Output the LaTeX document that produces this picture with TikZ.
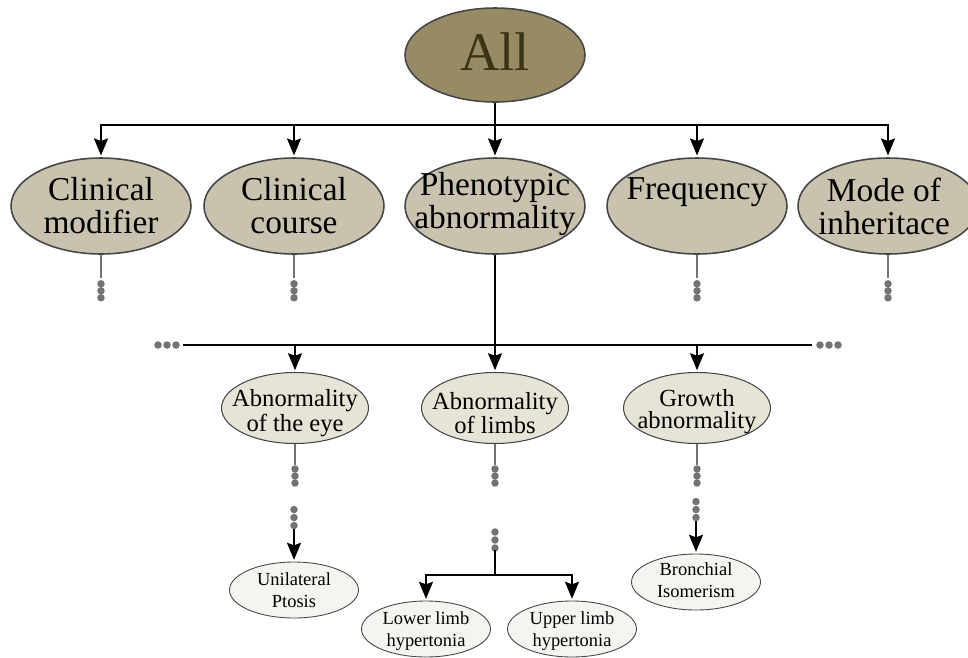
\documentclass[tikz,border=0pt]{standalone}
\usepackage{fontspec}
\setmainfont{Liberation Serif}
\definecolor{allfill}{RGB}{151,139,101}
\definecolor{alltext}{RGB}{58,52,20}
\definecolor{onefill}{RGB}{201,194,174}
\definecolor{twofill}{RGB}{230,228,214}
\definecolor{leaffill}{RGB}{244,244,241}
\definecolor{edge}{RGB}{70,70,70}
\definecolor{dotgray}{RGB}{115,115,115}
\usetikzlibrary{arrows.meta}
\usetikzlibrary{shapes.geometric}
\usetikzlibrary{positioning}
\tikzset{
  blob/.style={ellipse, draw=edge, inner sep=0},
  root/.style={blob, fill=allfill, line width=0.9pt,
    minimum width=3.6cm, minimum height=1.88cm},
  lvlone/.style={blob, fill=onefill, line width=0.9pt,
    minimum width=3.6cm, minimum height=1.92cm},
  lvltwo/.style={blob, fill=twofill, line width=0.6pt,
    minimum width=2.94cm, minimum height=1.42cm},
  leaf/.style={blob, fill=leaffill, line width=0.5pt,
    minimum width=2.58cm, minimum height=1.12cm},
  roottext/.style={inner sep=0, text=alltext, font=\fontsize{31}{31}\selectfont},
  onetext/.style={inner sep=0, align=center, font=\fontsize{19}{18.7}\selectfont},
  twotext/.style={inner sep=0, align=center, font=\fontsize{14}{12.5}\selectfont},
  leaftext/.style={inner sep=0, align=center, font=\fontsize{10.5}{12.5}\selectfont},
  arrow/.style={-{Stealth[length=3.4mm, width=2.8mm, inset=0.5mm]},
    line width=1pt, shorten >=1pt},
  stub/.style={draw=dotgray, line width=1.2pt},
  dot/.style={fill=dotgray}
}

\begin{document}
\begin{tikzpicture}[x=0.02cm, y=-0.02cm]
  \clip (0,0) rectangle (968,657);

  \node [root] (all) at (495,55) {};
  \node [roottext] (all-t) at (495,52) {All};

  \node [lvlone] (cm) at (101,206) {};
  \node [lvlone] (cc) at (294,206) {};
  \node [lvlone] (pheno) at (495,206) {};
  \node [lvlone] (freq) at (697,206) {};
  \node [lvlone] (moi) at (888,206) {};
  \node [onetext] (cm-t) at (101,206) {Clinical\\modifier};
  \node [onetext] (cc-t) at (294,206) {Clinical\\course};
  \node [onetext] (pheno-t) at (495,204) {Phenotypic\\abnormality};
  \node [onetext] (freq-t) at (697,192) {Frequency};
  \node [onetext] (moi-t) at (884,206) {Mode of\\inheritace};

  \node [lvltwo] (eye) at (295,408) {};
  \node [lvltwo] (limbs) at (495,408) {};
  \node [lvltwo] (growth) at (697,408) {};
  \node [twotext] (eye-t) at (295,413) {Abnormality\\of the eye};
  \node [twotext] (limbs-t) at (495,413) {Abnormality\\of limbs};
  \node [twotext] (growth-t) at (697,412) {Growth\\abnormality};

  \node [leaf] (ptosis) at (294,590) {};
  \node [leaf] (lower) at (426,629) {};
  \node [leaf] (upper) at (572,629) {};
  \node [leaf] (bronch) at (696,582) {};
  \node [leaftext] (ptosis-t) at (294,590) {Unilateral\\Ptosis};
  \node [leaftext] (lower-t) at (426,631) {Lower limb\\hypertonia};
  \node [leaftext] (upper-t) at (572,631) {Upper limb\\hypertonia};
  \node [leaftext] (bronch-t) at (696,580) {Bronchial\\Isomerism};

  \coordinate (bus) at (495,125);
  \draw [line width=1pt] (all) -- (bus);
  \draw [line width=1pt] (100,125) -- (888,125);
  \foreach \n in {cm,cc,pheno,freq,moi}
    \draw [arrow] (bus) -| (\n);

  \foreach \n in {cm,cc,freq,moi} {
    \draw [stub] (\n.south) -- ++(0,23);
    \foreach \d in {29,36,43}
      \fill [dot] (\n.south) ++(0,\d) circle (0.075cm);
  }

  \coordinate (bus2) at (495,345);
  \draw [line width=1pt] (183,345) -- (812,345);
  \foreach \x in {158,167,176,820,829,838}
    \fill [dot] (\x,345) circle (0.075cm);
  \draw [arrow] (pheno) -- (limbs);
  \foreach \n in {eye,growth}
    \draw [arrow] (\n |- bus2) -- (\n);

  \foreach \n in {eye,limbs,growth} {
    \draw [stub] (\n.south) -- ++(0,21);
    \foreach \d in {25,32,39}
      \fill [dot] (\n.south) ++(0,\d) circle (0.075cm);
  }

  \foreach \n in {ptosis,bronch} {
    \foreach \d in {52,44,36}
      \fill [dot] (\n.north) ++(0,-\d) circle (0.075cm);
    \draw [arrow] (\n.north) ++(0,-33) -- (\n);
  }

  \coordinate (split) at (495,575);
  \foreach \d in {43,35,27}
    \fill [dot] (split) ++(0,-\d) circle (0.075cm);
  \draw [line width=1pt] (split) ++(0,-25) -- (split);
  \foreach \n in {lower,upper}
    \draw [arrow] (split) -| (\n);
\end{tikzpicture}
\end{document}
